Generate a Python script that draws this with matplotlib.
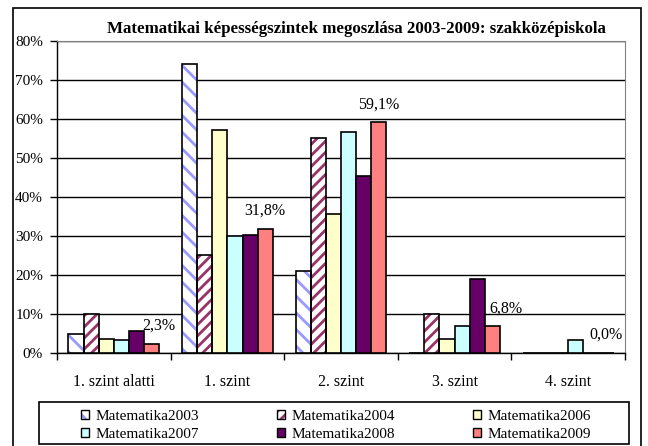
import matplotlib
matplotlib.use("Agg")
import matplotlib.pyplot as plt
from matplotlib.patches import Patch, Rectangle
from matplotlib.legend_handler import HandlerTuple
import numpy as np

categories = ["1. szint alatti", "1. szint", "2. szint", "3. szint", "4. szint"]
series_names = ["Matematika2003", "Matematika2004", "Matematika2006",
                "Matematika2007", "Matematika2008", "Matematika2009"]
m2003 = [4.8, 74.0, 21.0, 0.0, 0.0]
m2004 = [10.0, 25.0, 55.0, 10.0, 0.0]
m2006 = [3.6, 57.1, 35.6, 3.6, 0.0]
m2007 = [3.2, 29.8, 56.6, 6.8, 3.2]
m2008 = [5.6, 30.3, 45.4, 19.0, 0.0]
m2009 = [2.3, 31.8, 59.1, 6.8, 0.0]
series_values = [m2003, m2004, m2006, m2007, m2008, m2009]
yticks = [0, 10, 20, 30, 40, 50, 60, 70, 80]
title = "Matematikai képességszintek megoszlása 2003-2009: szakközépiskola"

plt.rcParams['font.family'] = ['Liberation Serif', 'DejaVu Serif']
plt.rcParams['hatch.linewidth'] = 2.0

fig = plt.figure(figsize=(6.48, 4.46), dpi=100)
W, H = 648, 446
ax = fig.add_axes([57 / W, 1 - 352.7 / H, (625 - 57) / W, (352.7 - 40.7) / H])

styles = [
    dict(face="white", hatch="\\\\", hcolor="#9999FF"),
    dict(face="white", hatch="///", hcolor="#993366"),
    dict(face="#FFFFCC", hatch=None, hcolor=None),
    dict(face="#CCFFFF", hatch=None, hcolor=None),
    dict(face="#660066", hatch=None, hcolor=None),
    dict(face="#FF8080", hatch=None, hcolor=None),
]

n = len(series_values)
x = np.arange(len(categories))
bw = 0.8 / n
handles = []
for i, (vals, st, name) in enumerate(zip(series_values, styles, series_names)):
    xs = x + (i - (n - 1) / 2) * bw
    v = np.array(vals) / 100.0
    if st["hatch"]:
        ax.bar(xs, v, bw, color=st["face"], edgecolor=st["hcolor"],
               hatch=st["hatch"], linewidth=0, zorder=3)
        ax.bar(xs, v, bw, color="none", edgecolor="black", linewidth=1.2, zorder=4)
        h = (Patch(facecolor=st["face"], edgecolor=st["hcolor"], hatch=st["hatch"], linewidth=0),
             Patch(facecolor="none", edgecolor="black", linewidth=1.0))
    else:
        ax.bar(xs, v, bw, color=st["face"], edgecolor="black", linewidth=1.2, zorder=3)
        h = Patch(facecolor=st["face"], edgecolor="black", linewidth=1.0)
    handles.append(h)
    if i == n - 1:
        offs = [5, 0, 0, 10, 0]
        for xx, vv, dx in zip(xs, v, offs):
            ax.annotate(f"{vv*100:.1f}%".replace(".", ","), (xx, vv),
                        xytext=(dx, 10), textcoords="offset points",
                        ha="center", va="baseline", fontsize=11.5, zorder=5)

ax.set_xlim(-0.5, len(categories) - 0.5)
ax.set_ylim(0, 0.8)
ax.set_yticks([t / 100 for t in yticks])
ax.set_yticklabels([f"{t}%" for t in yticks])
ax.set_xticks(np.arange(-0.5, len(categories), 1.0))
ax.set_xticklabels([])
ax.set_xticks(x, minor=True)
ax.set_xticklabels(categories, minor=True)
ax.tick_params(axis="x", which="major", length=5, width=1, direction="out")
ax.tick_params(axis="x", which="minor", length=0, pad=15, labelsize=11.5)
ax.tick_params(axis="y", length=5, width=1, direction="out", labelsize=11, pad=5)
ax.yaxis.grid(True, color="black", linewidth=1, zorder=0)
ax.set_axisbelow(True)
for s in ["top", "right"]:
    ax.spines[s].set_color("#808080")
for s in ["left", "bottom"]:
    ax.spines[s].set_color("black")
    ax.spines[s].set_linewidth(1)

fig.text(356 / W, 1 - 33 / H, title, ha="center", va="baseline",
         fontsize=12.2, fontweight="bold")

# legend frame
fig.add_artist(Rectangle((39 / W, 1 - 444 / H), (629 - 39) / W, (444 - 402) / H,
                         transform=fig.transFigure, fill=False,
                         edgecolor="black", linewidth=1.2))
order = [0, 3, 1, 4, 2, 5]
leg = fig.legend([handles[k] for k in order], [series_names[k] for k in order],
                 ncol=3, loc="upper left",
                 bbox_to_anchor=(81 / W, 1 - 410 / H),
                 fontsize=11, frameon=False,
                 handlelength=0.55, handleheight=0.55,
                 handletextpad=0.4, borderpad=0.0, labelspacing=0.3,
                 columnspacing=5.1, borderaxespad=0,
                 handler_map={tuple: HandlerTuple(ndivide=1, pad=0)})

fig.add_artist(Rectangle((13 / W, -0.02), (641 - 13) / W, 1 - 8 / H + 0.02,
                         transform=fig.transFigure, fill=False,
                         edgecolor="black", linewidth=1.2))

fig.savefig("out.png", dpi=100)
